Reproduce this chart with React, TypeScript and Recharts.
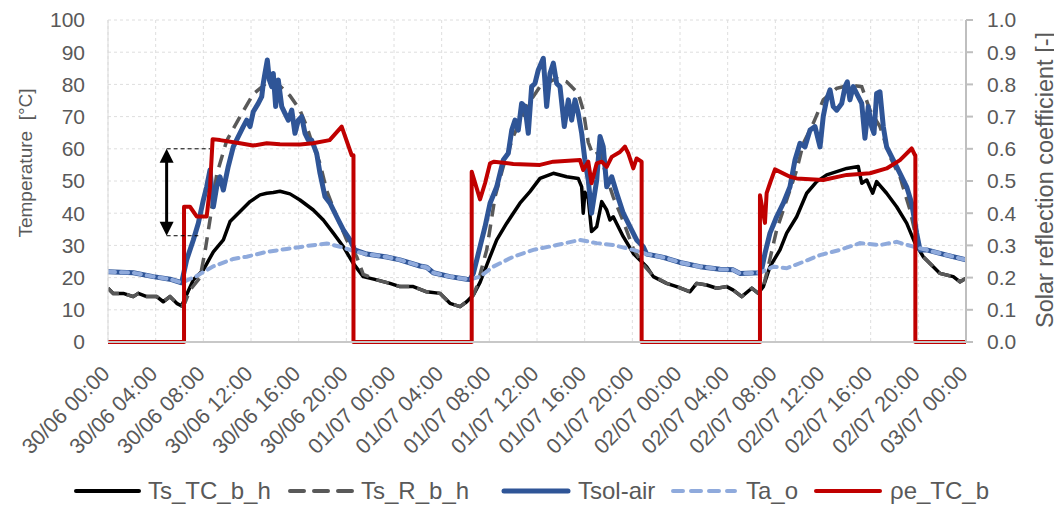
import React from 'react';
import { LineChart, Line, XAxis, YAxis, CartesianGrid, ReferenceLine } from 'recharts';

// Time axis: hours since 30/06 00:00
const tickHours = [0, 4, 8, 12, 16, 20, 24, 28, 32, 36, 40, 44, 48, 52, 56, 60, 64, 68, 72];
const tickLabels = [
  '30/06 00:00', '30/06 04:00', '30/06 08:00', '30/06 12:00', '30/06 16:00', '30/06 20:00',
  '01/07 00:00', '01/07 04:00', '01/07 08:00', '01/07 12:00', '01/07 16:00', '01/07 20:00',
  '02/07 00:00', '02/07 04:00', '02/07 08:00', '02/07 12:00', '02/07 16:00', '02/07 20:00',
  '03/07 00:00',
];
const tempTicks = [0, 10, 20, 30, 40, 50, 60, 70, 80, 90, 100];
const coefTicks = [0, 0.1, 0.2, 0.3, 0.4, 0.5, 0.6, 0.7, 0.8, 0.9, 1.0];

const seriesNames = ['Ts_TC_b_h', 'Ts_R_b_h', 'Tsol-air', 'Ta_o', 'ρe_TC_b'];

// Ts_TC_b_h [°C]
const tcHours = [
  0.0, 0.44, 1.28, 2.12, 2.54, 3.25, 4.09, 4.64, 5.2, 5.77, 6.18, 6.46, 7.16, 8.0, 8.84, 9.68,
  10.24, 11.08, 11.92, 12.76, 13.32, 13.87, 14.43, 15.27, 16.11, 17.23, 18.07, 18.91, 19.75,
  20.58, 21.42, 22.55, 23.66, 24.5, 25.62, 26.74, 27.86, 28.7, 29.54, 30.1, 30.66, 31.22,
  32.06, 32.62, 33.46, 34.57, 35.41, 36.25, 37.37, 38.49, 39.46, 39.75, 39.88, 40.02, 40.3,
  40.58, 41.01, 41.43, 41.85, 42.12, 42.4, 43.24, 44.08, 45.2, 45.76, 46.88, 47.72, 48.84,
  49.4, 50.24, 51.08, 51.92, 52.47, 53.18, 54.02, 54.57, 54.99, 55.55, 56.39, 56.95, 57.79,
  58.63, 59.47, 60.31, 61.15, 61.99, 62.96, 63.25, 63.67, 64.17, 64.5, 65.34, 66.18, 67.02,
  67.72, 68.41, 68.98, 69.82, 70.93, 71.5, 72.0,
];
const tcTemps = [
  16.7, 15.1, 15.1, 14.1, 15.1, 14.1, 14.1, 12.5, 14.1, 12.0, 11.2, 13.6, 19.3, 22.4, 28.0, 31.7,
  37.4, 40.5, 43.6, 45.7, 46.2, 46.4, 46.8, 46.0, 44.1, 41.0, 37.9, 33.8, 29.6,
  24.4, 20.3, 19.3, 18.2, 17.2, 17.2, 15.6, 15.1, 12.0, 11.0, 12.5, 14.6, 18.5,
  26.5, 31.7, 36.9, 43.1, 46.7, 50.8, 52.4, 51.3, 50.8, 48.2, 40.0, 46.5, 44.6,
  34.3, 35.8, 43.6, 41.0, 37.9, 38.9, 32.7, 27.5, 23.4, 20.3, 18.2, 17.2, 15.6,
  18.2, 17.7, 16.7, 17.2, 16.1, 14.1, 16.7, 15.1, 17.2, 23.4, 28.6, 33.8, 38.9,
  46.2, 49.8, 51.9, 52.9, 53.9, 54.5, 49.3, 50.3, 46.2, 49.8, 46.2, 42.0, 36.9,
  30.7, 26.5, 24.4, 21.3, 20.3, 18.7, 19.8,
];

// Ts_R_b_h [°C]
const rHours = [
  0.0, 0.44, 1.28, 2.12, 2.54, 3.25, 4.09, 4.64, 5.2, 5.77, 6.18, 6.46, 6.88, 7.72, 8.14, 8.56,
  9.12, 9.96, 11.08, 12.19, 13.32, 13.87, 14.43, 15.27, 16.11, 16.67, 17.2, 17.79, 18.35,
  19.19, 20.03, 20.87, 21.42, 22.55, 23.66, 24.5, 25.62, 26.74, 27.86, 28.7, 29.54, 30.1,
  30.66, 30.94, 31.78, 32.48, 33.17, 34.01, 35.13, 36.25, 37.65, 38.49, 39.46, 39.88, 40.3,
  40.72, 41.29, 41.85, 42.4, 43.24, 44.08, 44.92, 45.76, 46.88, 47.72, 48.84, 49.4, 50.24,
  51.08, 51.92, 52.47, 53.18, 54.02, 54.57, 54.99, 55.27, 56.11, 56.95, 57.79, 58.35, 59.18,
  60.02, 61.15, 62.26, 63.25, 63.94, 64.78, 65.62, 66.46, 67.3, 67.86, 68.41, 68.98, 69.82,
  70.93, 71.5, 72.0,
];
const rTemps = [
  16.7, 15.1, 15.1, 14.1, 15.1, 14.1, 14.1, 12.5, 14.1, 12.0, 11.2, 12.2, 16.1, 20.0, 28.0, 38.0,
  52.0, 62.5, 70.0, 77.0, 80.5, 81.0, 79.5, 76.5, 72.0, 67.0, 61.0, 55.5, 47.0,
  39.0, 31.7, 26.5, 21.0, 19.3, 18.2, 17.2, 17.2, 15.6, 15.1, 12.0, 11.0, 12.5,
  14.6, 17.2, 28.6, 45.1, 54.5, 63.8, 73.1, 79.3, 81.9, 80.8, 77.2, 72.0, 62.0,
  58.0, 59.0, 51.0, 45.0, 37.5, 29.0, 24.0, 20.5, 18.2, 17.2, 15.6, 18.2, 17.7,
  16.7, 17.2, 16.1, 14.1, 16.7, 15.1, 17.2, 21.3, 34.8, 44.1, 53.4, 61.7, 67.9,
  75.2, 78.8, 79.8, 79.3, 72.0, 66.9, 57.5, 51.3, 41.0, 31.7, 26.5, 24.4, 21.3,
  20.3, 18.7, 19.8,
];

// Tsol-air [°C]
const solHours = [
  0.0, 2.12, 3.8, 5.2, 6.18, 6.6, 7.16, 7.58, 8.0, 8.28, 8.56, 8.84, 9.12, 9.4, 9.68, 10.09,
  10.51, 10.93, 11.35, 11.64, 11.92, 12.19, 12.61, 12.9, 13.03, 13.17, 13.37, 13.54, 13.74,
  13.87, 14.07, 14.29, 14.58, 14.85, 15.13, 15.42, 15.69, 15.97, 16.25, 16.53, 16.81, 17.09,
  17.51, 17.79, 18.21, 18.63, 19.19, 19.75, 20.31, 20.7, 21.71, 23.39, 24.5, 26.18, 26.74,
  27.3, 28.7, 30.1, 30.38, 30.66, 31.22, 31.64, 32.06, 32.62, 33.17, 33.59, 33.88, 34.15,
  34.43, 34.71, 34.99, 35.27, 35.55, 35.83, 36.11, 36.53, 36.81, 37.09, 37.37, 37.65, 37.93,
  38.29, 38.63, 38.91, 39.19, 39.46, 39.75, 40.02, 40.3, 40.58, 41.01, 41.29, 41.56, 41.85,
  42.27, 42.69, 43.24, 43.8, 44.36, 44.92, 45.2, 46.32, 46.88, 48.0, 49.68, 51.36, 52.47,
  53.03, 54.71, 54.85, 55.13, 55.55, 56.11, 56.67, 57.23, 57.65, 58.07, 58.49, 58.91, 59.33,
  59.75, 60.02, 60.3, 60.59, 60.86, 61.15, 61.57, 61.85, 62.04, 62.26, 62.54, 62.96, 63.25,
  63.52, 63.8, 64.08, 64.28, 64.5, 64.78, 65.06, 65.34, 65.9, 66.46, 67.02, 67.44, 67.86,
  68.14, 68.7, 70.38, 72.0,
];
const solTemps = [
  21.8, 21.5, 20.3, 19.5, 18.4, 25.5, 31.7, 36.9, 44.1, 48.2, 53.4, 42.0, 48.2, 51.3, 47.2, 54.5,
  60.6, 63.8, 66.9, 68.9, 66.9, 71.5, 74.1, 76.2, 80.3, 83.4, 87.6, 81.4, 79.3,
  83.4, 73.1, 81.4, 73.1, 71.0, 68.9, 72.0, 64.8, 68.9, 70.0, 64.8, 62.7, 62.7,
  58.6, 52.4, 45.1, 43.1, 38.9, 34.8, 31.7, 28.6, 27.3, 26.4, 25.5, 23.6, 23.2,
  21.5, 20.3, 19.5, 19.4, 21.3, 29.6, 35.8, 43.1, 48.2, 56.5, 58.6, 65.8, 68.9,
  65.8, 74.1, 73.1, 64.8, 79.3, 80.3, 84.5, 88.1, 73.1, 83.4, 86.6, 80.3, 79.3,
  66.9, 75.2, 68.9, 75.2, 71.0, 64.8, 56.5, 50.3, 40.0, 50.3, 63.8, 60.6, 48.2,
  51.3, 46.2, 40.0, 35.8, 31.7, 29.6, 27.3, 26.5, 26.0, 24.7, 23.4, 22.6, 22.4,
  21.3, 21.5, 22.4, 27.5, 33.8, 38.9, 43.1, 48.2, 56.5, 61.7, 60.6, 65.8, 66.9,
  60.6, 70.0, 75.2, 78.3, 73.1, 72.0, 74.1, 79.3, 80.8, 75.2, 79.3, 76.2, 74.1,
  63.3, 73.1, 66.9, 64.8, 77.2, 77.7, 66.9, 60.6, 56.5, 52.4, 48.2, 43.1, 33.8,
  28.6, 28.6, 27.0, 25.5,
];

// Ta_o [°C]
const airHours = [
  0.0, 2.12, 3.8, 5.2, 6.18, 7.44, 8.84, 10.51, 11.64, 13.32, 15.0, 16.67, 18.35, 19.47, 20.58,
  21.71, 23.39, 24.5, 26.18, 26.74, 27.3, 28.7, 30.1, 30.38, 31.22, 32.33, 34.01, 35.69, 37.65,
  39.61, 41.01, 42.4, 44.08, 44.64, 45.2, 46.32, 46.88, 48.0, 49.68, 51.36, 52.47, 53.03,
  54.71, 55.83, 56.95, 58.35, 59.75, 61.43, 63.1, 64.78, 66.18, 67.58, 68.7, 70.38, 72.0,
];
const airTemps = [
  21.8, 21.5, 20.3, 19.5, 18.4, 20.5, 23.5, 25.8, 26.5, 28.0, 28.9, 29.8, 30.6, 29.6, 28.3,
  27.3, 26.4, 25.5, 23.6, 23.2, 21.5, 20.3, 19.5, 19.4, 20.3, 23.4, 26.5, 28.6, 30.1,
  31.7, 30.7, 30.1, 28.6, 28.0, 27.3, 26.5, 26.0, 24.7, 23.4, 22.6, 22.4, 21.3,
  21.5, 23.4, 22.9, 24.9, 27.0, 28.6, 30.7, 30.1, 31.1, 29.6, 28.6, 27.0, 25.5,
];

// ρe_TC_b [-]
const rhoHours = [
  0, 6.38, 6.38, 6.88, 7.44, 8.28, 8.56, 8.78, 9.4, 11.08, 12.17, 13.32, 14.43, 16.11, 17.2,
  18.6, 19.61, 20.45, 20.6, 20.6, 30.52, 30.52, 31.22, 31.64, 32.06, 32.4, 34.01, 36.25, 37.37,
  39.61, 39.88, 40.3, 40.58, 41.01, 41.43, 41.85, 42.27, 42.96, 43.38, 43.66, 44.08, 44.36,
  44.78, 44.78, 54.71, 54.71, 55.13, 55.27, 55.55, 55.97, 57.23, 57.79, 60.02, 61.99, 63.94,
  65.34, 66.46, 67.44, 67.72, 67.75, 67.75, 72,
];
const rhoValues = [
  0, 0, 0.42, 0.42, 0.39, 0.39, 0.48, 0.63, 0.627, 0.617, 0.61, 0.617, 0.614, 0.613, 0.617,
  0.627, 0.669, 0.58, 0.58, 0, 0, 0.529, 0.443, 0.493, 0.555, 0.56, 0.553, 0.55, 0.56,
  0.565, 0.534, 0.56, 0.493, 0.555, 0.56, 0.544, 0.575, 0.59, 0.607, 0.586, 0.539, 0.57,
  0.56, 0, 0, 0.456, 0.37, 0.462, 0.493, 0.536, 0.513, 0.508, 0.503, 0.519, 0.524,
  0.539, 0.565, 0.601, 0.58, 0.58, 0, 0,
];

// Double arrow marking the temperature span on the first morning
const arrowHour = 4.92;
const arrowTop = 60;
const arrowBottom = 33;
const topLeaderEnd = 8.56;
const bottomLeaderEnd = 7.58;

const toPoints = (hs: number[], vs: number[]) => hs.map((h, i) => ({ h, v: vs[i] }));

const tcData = toPoints(tcHours, tcTemps);
const rData = toPoints(rHours, rTemps);
const solData = toPoints(solHours, solTemps);
const airData = toPoints(airHours, airTemps);
const rhoData = toPoints(rhoHours, rhoValues);

const FONT = "'Liberation Sans', Arial, sans-serif";
const TEXT = '#595959';
const W = 1046;
const H = 496;

const XTick = (props: any) => {
  const { x, y, payload } = props;
  const idx = tickHours.indexOf(payload.value);
  const ax = x - 2;
  const ay = y + 28;
  return (
    <text
      x={ax}
      y={ay}
      transform={`rotate(-45 ${ax} ${ay})`}
      textAnchor="end"
      dominantBaseline="central"
      fill={TEXT}
      fontSize={21.5}
      fontFamily={FONT}
    >
      {tickLabels[idx]}
    </text>
  );
};

const DoubleArrow = (props: any) => {
  const { x1, y1, x2, y2 } = props;
  const top = Math.min(y1, y2);
  const bot = Math.max(y1, y2);
  const x = x1;
  const head = 14;
  const half = 7;
  return (
    <g>
      <line x1={x} y1={top + head - 1} x2={x} y2={bot - head + 1} stroke="#000" strokeWidth={3} />
      <polygon points={`${x},${top} ${x - half},${top + head} ${x + half},${top + head}`} fill="#000" />
      <polygon points={`${x},${bot} ${x - half},${bot - head} ${x + half},${bot - head}`} fill="#000" />
    </g>
  );
};

// Legend swatches: colour, dash pattern, stroke width, line start/end and label start
const legendItems = [
  { color: '#000000', width: 4, dash: undefined, x1: 66, x2: 133, tx: 140 },
  { color: '#595959', width: 4, dash: '14 10', x1: 280, x2: 347, tx: 353 },
  { color: '#2F5597', width: 5, dash: undefined, x1: 494, x2: 562, tx: 570 },
  { color: '#8FAADC', width: 4, dash: '10 8', x1: 663, x2: 729, tx: 738 },
  { color: '#C00000', width: 4, dash: undefined, x1: 806, x2: 874, tx: 882 },
];

export default function App() {
  return (
    <div style={{ position: 'relative', width: W, height: H, fontFamily: FONT }}>
      <LineChart width={W} height={H} margin={{ top: 12, right: 0, bottom: 0, left: 0 }}>
        <CartesianGrid
          yAxisId="left"
          stroke="#dedede"
          strokeDasharray="3 3"
          strokeWidth={1}
        />
        <XAxis
          dataKey="h"
          type="number"
          domain={[0, 72]}
          ticks={tickHours}
          interval={0}
          height={162}
          tickSize={0}
          tickMargin={0}
          tick={<XTick />}
          axisLine={{ stroke: '#c8c8c8', strokeWidth: 2 }}
          tickLine={false}
          allowDataOverflow
        />
        <YAxis
          yAxisId="left"
          orientation="left"
          width={100}
          domain={[0, 100]}
          ticks={tempTicks}
          interval={0}
          tickSize={0}
          tickMargin={23}
          tickLine={false}
          axisLine={{ stroke: '#d9d9d9', strokeWidth: 1 }}
          tick={{ fill: TEXT, fontSize: 21, fontFamily: FONT }}
        />
        <YAxis
          yAxisId="right"
          orientation="right"
          width={88}
          domain={[0, 1]}
          ticks={coefTicks}
          interval={0}
          tickSize={7}
          tickMargin={14}
          tickLine={{ stroke: '#bfbfbf', strokeWidth: 2 }}
          axisLine={{ stroke: '#bfbfbf', strokeWidth: 2 }}
          tick={{ fill: TEXT, fontSize: 21, fontFamily: FONT }}
          tickFormatter={(v: number) => v.toFixed(1)}
        />

        <Line yAxisId="left" data={tcData} dataKey="v" name={seriesNames[0]} type="linear"
          stroke="#000000" strokeWidth={3.5} strokeLinejoin="round" dot={false} isAnimationActive={false} />
        <Line yAxisId="left" data={rData} dataKey="v" name={seriesNames[1]} type="linear"
          stroke="#595959" strokeWidth={3.5} strokeDasharray="13 8" dot={false} isAnimationActive={false} />
        <Line yAxisId="left" data={solData} dataKey="v" name={seriesNames[2]} type="linear"
          stroke="#2F5597" strokeWidth={5} strokeLinejoin="round" dot={false} isAnimationActive={false} />
        <Line yAxisId="left" data={airData} dataKey="v" name={seriesNames[3]} type="linear"
          stroke="#8FAADC" strokeWidth={4} strokeDasharray="7 6" strokeLinecap="round" dot={false} isAnimationActive={false} />
        <Line yAxisId="right" data={rhoData} dataKey="v" name={seriesNames[4]} type="linear"
          stroke="#C00000" strokeWidth={4} strokeLinejoin="round" dot={false} isAnimationActive={false} />

        <ReferenceLine yAxisId="left" segment={[{ x: arrowHour, y: arrowTop }, { x: topLeaderEnd, y: arrowTop }]}
          stroke="#000" strokeWidth={1} strokeDasharray="4 3" ifOverflow="visible" />
        <ReferenceLine yAxisId="left" segment={[{ x: arrowHour, y: arrowBottom }, { x: bottomLeaderEnd, y: arrowBottom }]}
          stroke="#000" strokeWidth={1} strokeDasharray="4 3" ifOverflow="visible" />
        <ReferenceLine yAxisId="left" segment={[{ x: arrowHour, y: arrowTop }, { x: arrowHour, y: arrowBottom }]}
          shape={<DoubleArrow />} ifOverflow="visible" />
      </LineChart>

      <svg width={W} height={H} style={{ position: 'absolute', left: 0, top: 0, pointerEvents: 'none', overflow: 'visible' }}>
        <text x={17} y={155} transform="rotate(-90 17 155)" textAnchor="middle" dominantBaseline="central"
          fill={TEXT} fontSize={19} fontFamily={FONT} style={{ whiteSpace: 'pre' }}>{'Temperature  [°C]'}</text>
        <text x={1037} y={172} transform="rotate(-90 1037 172)" textAnchor="middle" dominantBaseline="central"
          fill={TEXT} fontSize={23.5} fontFamily={FONT} style={{ whiteSpace: 'pre' }}>{'Solar reflection coefficient [-]'}</text>

        {seriesNames.map((name, i) => {
          const s = legendItems[i];
          return (
            <g key={name}>
              <line x1={s.x1 + 2} y1={483} x2={s.x2 - 2} y2={483} stroke={s.color} strokeWidth={s.width}
                strokeDasharray={s.dash} strokeLinecap="round" />
              <text x={s.tx} y={491} fill={TEXT} fontSize={24} fontFamily={FONT}>{name}</text>
            </g>
          );
        })}
      </svg>
    </div>
  );
}
